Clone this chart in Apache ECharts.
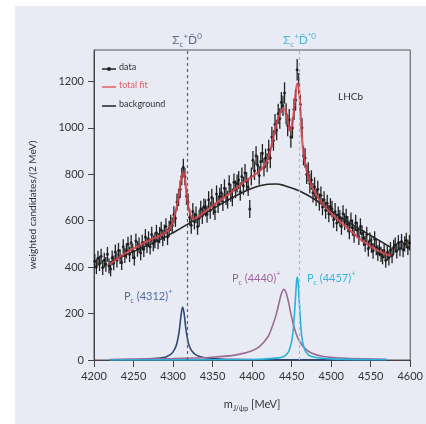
<!DOCTYPE html>
<html>
<head>
<meta charset="utf-8">
<script src="https://cdn.jsdelivr.net/npm/echarts@6/dist/echarts.min.js"></script>
<style>
html, body { margin: 0; padding: 0; background: #fff; }
#panel { position: absolute; left: 15px; top: 6px; width: 411px; height: 418px; background: #e8ebf4; }
#main { position: absolute; left: 0; top: 0; width: 426px; height: 424px; }
</style>
</head>
<body>
<div id="panel"></div>
<div id="main"></div>
<script>
// data: 2 MeV bins, first bin centre 4201 MeV
var binStart = 4201;
var binWidth = 2;
var dataValues = [
  425, 402, 438, 415, 447, 398, 430, 412, 455, 405,
  392, 440, 418, 465, 430, 472, 445, 420, 488, 450,
  470, 498, 455, 505, 468, 440, 512, 478, 495, 462,
  505, 478, 530, 495, 520, 488, 540, 502, 515, 548,
  512, 538, 560, 525, 548, 575, 530, 565, 590, 580,
  625, 610, 680, 700, 735, 790, 830, 790, 705, 680,
  615, 580, 640, 598, 625, 575, 610, 650, 622, 660,
  655, 628, 690, 645, 700, 662, 640, 715, 670, 705,
  720, 680, 740, 705, 690, 758, 720, 700, 765, 735,
  760, 775, 725, 790, 750, 805, 770, 745, 650, 790,
  860, 815, 880, 840, 795, 855, 890, 830, 870, 850,
  905, 870, 960, 945, 1015, 990, 1060, 1040, 1110, 1095,
  1150, 1060, 1010, 1035, 960, 1000, 1080, 1120, 1250, 1190,
  1100, 1000, 880, 870, 800, 810, 760, 775, 720, 745,
  700, 735, 680, 710, 660, 690, 645, 675, 630, 660,
  650, 605, 640, 590, 625, 610, 575, 630, 595, 615,
  585, 555, 600, 570, 540, 590, 560, 530, 575, 545,
  525, 500, 540, 480, 515, 495, 470, 520, 485, 460,
  480, 455, 445, 470, 430, 462, 440, 475, 450, 485,
  495, 470, 505, 480, 510, 475, 500, 515, 485, 505
];
// error bar half-size, one per 20 MeV block
var blockErrors = [32, 32, 33, 34, 35, 37, 36, 37, 38, 39, 40, 44, 46, 42, 37, 36, 35, 34, 33, 33];

// total fit  [mass, value]
var totalFit = [
  [4220, 412], [4230, 438], [4240, 460], [4250, 480], [4260, 498], [4270, 516],
  [4280, 530], [4290, 548], [4296, 566], [4300, 600], [4303, 635], [4305, 665],
  [4307, 705], [4309, 750], [4311, 795], [4313, 808], [4315, 780], [4317, 720],
  [4319, 665], [4322, 625], [4326, 608], [4330, 612], [4340, 638], [4350, 664],
  [4360, 688], [4370, 712], [4380, 740], [4390, 766], [4400, 790], [4410, 815],
  [4415, 835], [4420, 865], [4425, 930], [4430, 1005], [4435, 1060], [4440, 1085],
  [4444, 1050], [4448, 985], [4451, 1020], [4454, 1110], [4457, 1190], [4459, 1180],
  [4461, 1080], [4464, 920], [4468, 830], [4473, 770], [4478, 730], [4485, 690],
  [4490, 668], [4500, 632], [4510, 600], [4520, 570], [4530, 540], [4540, 512],
  [4550, 490], [4560, 470], [4570, 455], [4576, 450]
];
var background = [
  [4220, 420], [4240, 452], [4260, 482], [4280, 512], [4300, 548], [4320, 588],
  [4340, 630], [4360, 670], [4380, 708], [4400, 740], [4420, 757], [4430, 758],
  [4440, 752], [4460, 728], [4480, 690], [4500, 642], [4520, 598], [4540, 556],
  [4560, 516], [4576, 484]
];
var pc4312 = [
  [4220, 1], [4260, 3], [4280, 7], [4290, 12], [4296, 22], [4300, 35], [4304, 62],
  [4306, 90], [4308, 130], [4310, 190], [4312, 228], [4314, 200], [4316, 140],
  [4318, 95], [4320, 65], [4324, 38], [4330, 20], [4340, 10], [4360, 4], [4400, 2],
  [4460, 1], [4570, 0]
];
var pc4440 = [
  [4220, 2], [4300, 6], [4350, 12], [4380, 22], [4400, 40], [4410, 60], [4420, 100],
  [4426, 150], [4430, 190], [4434, 245], [4437, 285], [4440, 305], [4443, 290],
  [4446, 250], [4449, 200], [4452, 155], [4456, 110], [4460, 80], [4466, 52],
  [4475, 30], [4490, 15], [4520, 7], [4570, 3]
];
var pc4457 = [
  [4220, 0], [4400, 2], [4430, 8], [4440, 15], [4446, 35], [4450, 80], [4452, 130],
  [4454, 220], [4456, 330], [4457, 357], [4458, 340], [4460, 230], [4462, 130],
  [4464, 75], [4468, 35], [4475, 15], [4500, 5], [4570, 1]
];
// thresholds Sigma_c+ D0bar, Sigma_c+ D*0bar
var thresholds = [4317.7, 4459.9];
var yTicks = [0, 200, 400, 600, 800, 1000, 1200];

var points = dataValues.map(function (v, i) {
  return [binStart + i * binWidth, v];
});
var bars = dataValues.map(function (v, i) {
  var e = blockErrors[Math.floor(i / 10)];
  return [binStart + i * binWidth, v - e, v + e];
});

var font = 'Lato, "Noto Sans", sans-serif';
var subRich = {
  n: { fontSize: 11, fontFamily: font, lineHeight: 16, verticalAlign: 'middle' },
  s: { fontSize: 7, fontFamily: font, lineHeight: 16, verticalAlign: 'bottom' },
  u: { fontSize: 7, fontFamily: font, lineHeight: 16, verticalAlign: 'top' }
};
var bigRich = {
  n: { fontSize: 12, fontFamily: font, lineHeight: 16, verticalAlign: 'middle' },
  s: { fontSize: 8, fontFamily: font, lineHeight: 16, verticalAlign: 'bottom' },
  u: { fontSize: 8, fontFamily: font, lineHeight: 16, verticalAlign: 'top' }
};
function plain(v) { return String(v); }

var myChart = echarts.init(document.getElementById('main'));

var option = {
  backgroundColor: 'transparent',
  animation: false,
  textStyle: { fontFamily: font },
  grid: { left: 94, right: 11, top: 50, bottom: 64, show: true, borderColor: '#555', borderWidth: 1 },
  xAxis: {
    type: 'value', min: 4200, max: 4600, interval: 50,
    axisLine: { lineStyle: { color: '#444' } },
    axisTick: { length: 7, lineStyle: { color: '#444' } },
    axisLabel: { color: '#333', fontSize: 11, margin: 11, formatter: plain },
    splitLine: { show: false },
    name: '{n|m}{s|J/ψp}{n| [MeV]}',
    nameLocation: 'middle', nameGap: 36,
    nameTextStyle: { color: '#333', rich: subRich }
  },
  yAxis: {
    type: 'value', min: 0, max: 1335,
    axisLine: { show: true, lineStyle: { color: '#444' } },
    axisTick: { show: true, length: 6, customValues: yTicks, lineStyle: { color: '#444' } },
    axisLabel: { color: '#333', fontSize: 11, margin: 10, customValues: yTicks, formatter: plain },
    splitLine: { show: false },
    name: 'weighted candidates/(2 MeV)',
    nameLocation: 'middle', nameGap: 56,
    nameTextStyle: { color: '#333', fontSize: 10 }
  },
  graphic: [
    { type: 'line', shape: { x1: 102, y1: 69, x2: 116, y2: 69 }, style: { stroke: '#222', lineWidth: 1.5 } },
    { type: 'circle', shape: { cx: 109, cy: 69, r: 2 }, style: { fill: '#222' } },
    { type: 'text', left: 119, top: 63, style: { text: 'data', fill: '#333', font: '9px ' + font } },
    { type: 'line', shape: { x1: 102, y1: 87, x2: 116, y2: 87 }, style: { stroke: '#e0606a', lineWidth: 1.5 } },
    { type: 'text', left: 119, top: 81, style: { text: 'total fit', fill: '#e0606a', font: '9px ' + font } },
    { type: 'line', shape: { x1: 102, y1: 106, x2: 116, y2: 106 }, style: { stroke: '#222', lineWidth: 1.5 } },
    { type: 'text', left: 119, top: 100, style: { text: 'background', fill: '#333', font: '9px ' + font } },
    { type: 'text', left: 338, top: 92, style: { text: 'LHCb', fill: '#333', font: '10px ' + font } },
    { type: 'text', left: 124, top: 288, style: { text: '{n|P}{s|c}{n| (4312)}{u|+}', fill: '#4f6ca4', rich: subRich } },
    { type: 'text', left: 232, top: 270, style: { text: '{n|P}{s|c}{n| (4440)}{u|+}', fill: '#a0679a', rich: subRich } },
    { type: 'text', left: 307, top: 270, style: { text: '{n|P}{s|c}{n| (4457)}{u|+}', fill: '#35b4da', rich: subRich } }
  ],
  series: [
    {
      name: 'Pc(4312)', type: 'line', data: pc4312, smooth: 0.3, showSymbol: false,
      lineStyle: { color: '#2e4a78', width: 1.6 },
      markLine: {
        silent: true, symbol: 'none',
        lineStyle: { color: '#56627e', type: [3, 3], width: 1.2 },
        label: {
          position: 'end', distance: 2, color: '#5a6a8c',
          formatter: '{n|Σ}{s|c}{u|+}{n|D̄}{u|0}', rich: bigRich
        },
        data: [{ xAxis: thresholds[0] }]
      }
    },
    {
      name: 'Pc(4440)', type: 'line', data: pc4440, smooth: 0.3, showSymbol: false,
      lineStyle: { color: '#9c6a94', width: 1.6 }
    },
    {
      name: 'Pc(4457)', type: 'line', data: pc4457, smooth: 0.3, showSymbol: false,
      lineStyle: { color: '#2ab2da', width: 1.6 },
      markLine: {
        silent: true, symbol: 'none',
        lineStyle: { color: '#86c8e0', type: [3, 3], width: 1.2 },
        label: {
          position: 'end', distance: 2, color: '#48b6d8',
          formatter: '{n|Σ}{s|c}{u|+}{n|D̄}{u|*0}', rich: bigRich
        },
        data: [{ xAxis: thresholds[1] }]
      }
    },
    {
      name: 'background', type: 'line', data: background, smooth: 0.4, showSymbol: false,
      lineStyle: { color: '#262626', width: 1.6 }
    },
    {
      name: 'data', type: 'custom', data: bars,
      renderItem: function (params, api) {
        var p1 = api.coord([api.value(0), api.value(1)]);
        var p2 = api.coord([api.value(0), api.value(2)]);
        return {
          type: 'line',
          shape: { x1: p1[0], y1: p1[1], x2: p2[0], y2: p2[1] },
          style: { stroke: '#222', lineWidth: 1.3 }
        };
      }
    },
    {
      name: 'data', type: 'scatter', data: points, symbolSize: 3,
      itemStyle: { color: '#111' }
    },
    {
      name: 'total fit', type: 'line', data: totalFit, smooth: 0.3, showSymbol: false,
      lineStyle: { color: '#d8454f', width: 2.2, opacity: 0.85 }
    }
  ]
};
myChart.setOption(option);
</script>
</body>
</html>
